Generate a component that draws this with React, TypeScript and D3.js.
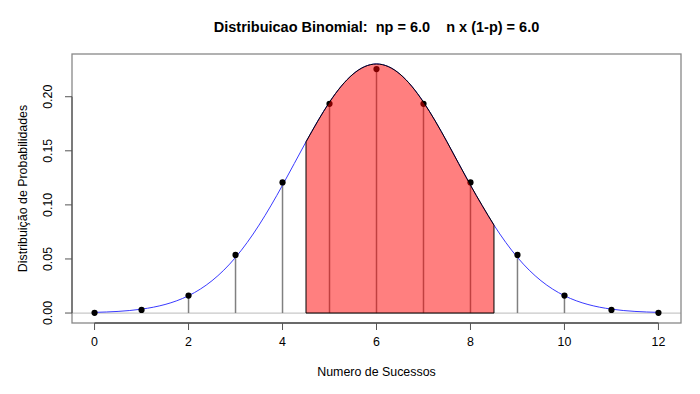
import React from "react";
import * as d3 from "d3";

const successes = [0, 1, 2, 3, 4, 5, 6, 7, 8, 9, 10, 11, 12];
const probabilities = [0.0002, 0.0029, 0.0161, 0.0537, 0.1208, 0.1934, 0.2256, 0.1934, 0.1208, 0.0537, 0.0161, 0.0029, 0.0002];
const curveX = [0, 0.5, 1, 1.5, 2, 2.5, 3, 3.5, 4, 4.5, 5, 5.5, 6, 6.5, 7, 7.5, 8, 8.5, 9, 9.5, 10, 10.5, 11, 11.5, 12];
const curveY = [0.0006, 0.0015, 0.0036, 0.0079, 0.016, 0.0299, 0.0514, 0.0813, 0.1182, 0.1583, 0.195, 0.2209, 0.2303, 0.2209, 0.195, 0.1583, 0.1182, 0.0813, 0.0514, 0.0299, 0.016, 0.0079, 0.0036, 0.0015, 0.0006];
const shadeFrom = 4.5;
const shadeTo = 8.5;
const xTicks = [0, 2, 4, 6, 8, 10, 12];
const yTicks = [0, 0.05, 0.1, 0.15, 0.2];
const title = "Distribuicao Binomial:  np = 6.0    n x (1-p) = 6.0";
const xTitle = "Numero de Sucessos";
const yTitle = "Distribuição de Probabilidades";

export default function App() {
  const W = 700, H = 394;
  const left = 72, right = 681, top = 54, bottom = 323;
  const xMin = 0, xMax = 12;
  const yMax = d3.max(curveY) as number;
  const yMin = 0;
  const xPad = (xMax - xMin) * 0.04;
  const yPad = (yMax - yMin) * 0.04;
  const x = d3.scaleLinear().domain([xMin - xPad, xMax + xPad]).range([left, right]);
  const y = d3.scaleLinear().domain([yMin - yPad, yMax + yPad]).range([bottom, top]);

  const pts: [number, number][] = curveX.map((v, i) => [v, curveY[i]]);
  const line = d3.line<[number, number]>().x(d => x(d[0])).y(d => y(d[1])).curve(d3.curveNatural);
  const shadePts = pts.filter(d => d[0] >= shadeFrom && d[0] <= shadeTo);
  const shadeTop = line(shadePts) as string;
  const shadePath = shadeTop + `L${x(shadeTo)},${y(0)}L${x(shadeFrom)},${y(0)}Z`;

  const font = "'Liberation Sans', Arial, Helvetica, sans-serif";
  const fs = 12.4;

  return (
    <svg width={W} height={H} style={{ position: "absolute", left: 0, top: 0, background: "#fff" }} fontFamily={font}>
      <rect x={0} y={0} width={W} height={H} fill="#fff" />
      <line x1={left} x2={right} y1={y(0)} y2={y(0)} stroke="#c8c8c8" strokeWidth={1.2} />
      {successes.map((k, i) => (
        <line key={"v" + k} x1={x(k)} x2={x(k)} y1={y(0)} y2={y(probabilities[i])} stroke="#808080" strokeWidth={1.5} />
      ))}
      <path d={line(pts) as string} fill="none" stroke="#3a3aff" strokeWidth={1} />
      {successes.map((k, i) => (
        <circle key={"p" + k} cx={x(k)} cy={y(probabilities[i])} r={3.1} fill="#000" />
      ))}
      <path d={shadePath} fill="rgba(255,0,0,0.5)" stroke="#000" strokeWidth={1} />
      <rect x={left} y={top} width={right - left} height={bottom - top} fill="none" stroke="#888" strokeWidth={1.3} />
      <line x1={x(xTicks[0])} x2={x(xTicks[xTicks.length - 1])} y1={bottom} y2={bottom} stroke="#222" strokeWidth={1} />
      {xTicks.map(t => (
        <g key={"xt" + t}>
          <line x1={x(t)} x2={x(t)} y1={bottom} y2={bottom + 7} stroke="#555" strokeWidth={1} />
          <text x={x(t)} y={bottom + 23} textAnchor="middle" fontSize={fs} fill="#000">{t}</text>
        </g>
      ))}
      <line x1={left} x2={left} y1={y(yTicks[0])} y2={y(yTicks[yTicks.length - 1])} stroke="#444" strokeWidth={1} />
      {yTicks.map(t => (
        <g key={"yt" + t}>
          <line x1={left} x2={left - 7} y1={y(t)} y2={y(t)} stroke="#555" strokeWidth={1} />
          <text transform={`translate(${left - 20},${y(t)}) rotate(-90)`} textAnchor="middle" fontSize={fs} fill="#000">{t.toFixed(2)}</text>
        </g>
      ))}
      <text x={(left + right) / 2} y={32} textAnchor="middle" fontSize={14.5} fontWeight="bold" fill="#000" style={{ whiteSpace: "pre" }}>{title}</text>
      <text x={(left + right) / 2} y={376} textAnchor="middle" fontSize={fs} fill="#000">{xTitle}</text>
      <text transform={`translate(27,${(top + bottom) / 2}) rotate(-90)`} textAnchor="middle" fontSize={fs} fill="#000">{yTitle}</text>
    </svg>
  );
}
